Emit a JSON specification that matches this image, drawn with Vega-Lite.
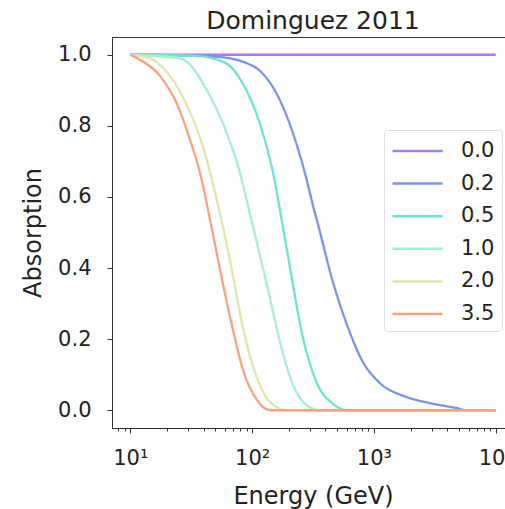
{
  "$schema": "https://vega.github.io/schema/vega-lite/v6.json",
  "autosize": {"type": "none"},
  "padding": {"left": 112, "top": 37, "right": 0, "bottom": 81},
  "width": 402,
  "height": 391,
  "background": "white",
  "config": {
    "font": "DejaVu Sans",
    "view": {"stroke": "#333333", "strokeWidth": 1}
  },
  "title": {"text": "Dominguez 2011", "fontSize": 25, "fontWeight": "normal", "color": "#222222", "offset": 3, "anchor": "middle"},
  "data": {"values": [
    {"z": "0.0", "E": 10, "A": 1.0},
    {"z": "0.0", "E": 10000, "A": 1.0},

    {"z": "0.2", "E": 10, "A": 1.0},
    {"z": "0.2", "E": 37.5, "A": 0.997},
    {"z": "0.2", "E": 66, "A": 0.99},
    {"z": "0.2", "E": 88, "A": 0.978},
    {"z": "0.2", "E": 116, "A": 0.955},
    {"z": "0.2", "E": 170, "A": 0.871},
    {"z": "0.2", "E": 234, "A": 0.744},
    {"z": "0.2", "E": 282, "A": 0.646},
    {"z": "0.2", "E": 316, "A": 0.576},
    {"z": "0.2", "E": 341, "A": 0.534},
    {"z": "0.2", "E": 461, "A": 0.36},
    {"z": "0.2", "E": 601, "A": 0.24},
    {"z": "0.2", "E": 813, "A": 0.135},
    {"z": "0.2", "E": 1120, "A": 0.076},
    {"z": "0.2", "E": 1862, "A": 0.037},
    {"z": "0.2", "E": 2874, "A": 0.02},
    {"z": "0.2", "E": 4786, "A": 0.006},
    {"z": "0.2", "E": 5780, "A": 0.0},
    {"z": "0.2", "E": 10000, "A": 0.0},

    {"z": "0.5", "E": 10, "A": 1.0},
    {"z": "0.5", "E": 34, "A": 0.997},
    {"z": "0.5", "E": 60, "A": 0.978},
    {"z": "0.5", "E": 84, "A": 0.919},
    {"z": "0.5", "E": 116, "A": 0.806},
    {"z": "0.5", "E": 149, "A": 0.666},
    {"z": "0.5", "E": 176, "A": 0.53},
    {"z": "0.5", "E": 205, "A": 0.4},
    {"z": "0.5", "E": 255, "A": 0.22},
    {"z": "0.5", "E": 341, "A": 0.075},
    {"z": "0.5", "E": 461, "A": 0.018},
    {"z": "0.5", "E": 601, "A": 0.0},
    {"z": "0.5", "E": 10000, "A": 0.0},

    {"z": "1.0", "E": 10, "A": 1.0},
    {"z": "1.0", "E": 25.7, "A": 0.99},
    {"z": "1.0", "E": 42.8, "A": 0.899},
    {"z": "1.0", "E": 57.8, "A": 0.806},
    {"z": "1.0", "E": 79.8, "A": 0.666},
    {"z": "1.0", "E": 96.3, "A": 0.55},
    {"z": "1.0", "E": 133, "A": 0.35},
    {"z": "1.0", "E": 170, "A": 0.19},
    {"z": "1.0", "E": 217, "A": 0.07},
    {"z": "1.0", "E": 299, "A": 0.008},
    {"z": "1.0", "E": 361, "A": 0.0},
    {"z": "1.0", "E": 10000, "A": 0.0},

    {"z": "2.0", "E": 10, "A": 1.0},
    {"z": "2.0", "E": 14.6, "A": 0.99},
    {"z": "2.0", "E": 20.1, "A": 0.95},
    {"z": "2.0", "E": 29.9, "A": 0.85},
    {"z": "2.0", "E": 39.6, "A": 0.74},
    {"z": "2.0", "E": 54.7, "A": 0.55},
    {"z": "2.0", "E": 66.1, "A": 0.42},
    {"z": "2.0", "E": 84.4, "A": 0.23},
    {"z": "2.0", "E": 110, "A": 0.09},
    {"z": "2.0", "E": 141, "A": 0.022},
    {"z": "2.0", "E": 194, "A": 0.0},
    {"z": "2.0", "E": 10000, "A": 0.0},

    {"z": "3.5", "E": 10, "A": 1.0},
    {"z": "3.5", "E": 11.4, "A": 0.99},
    {"z": "3.5", "E": 17.6, "A": 0.94},
    {"z": "3.5", "E": 24.3, "A": 0.86},
    {"z": "3.5", "E": 31, "A": 0.76},
    {"z": "3.5", "E": 37.5, "A": 0.666},
    {"z": "3.5", "E": 45.3, "A": 0.534},
    {"z": "3.5", "E": 54.7, "A": 0.393},
    {"z": "3.5", "E": 69.8, "A": 0.225},
    {"z": "3.5", "E": 84.4, "A": 0.112},
    {"z": "3.5", "E": 110, "A": 0.028},
    {"z": "3.5", "E": 141, "A": 0.0},
    {"z": "3.5", "E": 10000, "A": 0.0}
  ]},
  "mark": {"type": "line", "strokeWidth": 2.3, "clip": true, "interpolate": "monotone"},
  "encoding": {
    "x": {
      "field": "E", "type": "quantitative",
      "scale": {"type": "log", "domain": [7.08, 14125], "nice": false},
      "axis": {
        "title": "Energy (GeV)", "titleFontSize": 24, "titleFontWeight": "normal", "titleColor": "#222222", "titlePadding": 16,
        "values": [8, 9, 10, 20, 30, 40, 50, 60, 70, 80, 90, 100, 200, 300, 400, 500, 600, 700, 800, 900, 1000, 2000, 3000, 4000, 5000, 6000, 7000, 8000, 9000, 10000],
        "labelExpr": "datum.value == 10 ? '10¹' : datum.value == 100 ? '10²' : datum.value == 1000 ? '10³' : datum.value == 10000 ? '10⁴' : ''",
        "labelFontSize": 21, "labelColor": "#222222", "labelPadding": 14,
        "tickSize": {"condition": {"test": "datum.value == 10 || datum.value == 100 || datum.value == 1000 || datum.value == 10000", "value": 5}, "value": 3},
        "tickColor": "#333333", "domainColor": "#333333", "grid": false, "labelFlush": false, "labelOverlap": false
      }
    },
    "y": {
      "field": "A", "type": "quantitative",
      "scale": {"domain": [-0.05, 1.05], "nice": false, "zero": false},
      "axis": {
        "title": "Absorption", "titleFontSize": 24, "titleFontWeight": "normal", "titleColor": "#222222", "titlePadding": 12,
        "values": [0, 0.2, 0.4, 0.6, 0.8, 1.0], "format": ".1f",
        "labelFontSize": 21, "labelColor": "#222222", "labelPadding": 16,
        "tickSize": 5, "tickColor": "#333333", "domainColor": "#333333", "grid": false
      }
    },
    "color": {
      "field": "z", "type": "nominal",
      "scale": {"domain": ["0.0", "0.2", "0.5", "1.0", "2.0", "3.5"], "range": ["#a878f8", "#7a95e6", "#6ee3d0", "#a6f0cc", "#dfe6b0", "#f7a283"]},
      "legend": {
        "title": null, "orient": "none", "legendX": 272, "legendY": 93,
        "symbolType": "M-1,0L3,0", "symbolSize": 625, "symbolStrokeWidth": 2.5,
        "labelFontSize": 21, "labelColor": "#222222", "labelOffset": 42,
        "rowPadding": 8.6, "padding": 7, "strokeColor": "#dddddd", "fillColor": "white", "cornerRadius": 3
      }
    }
  }
}
